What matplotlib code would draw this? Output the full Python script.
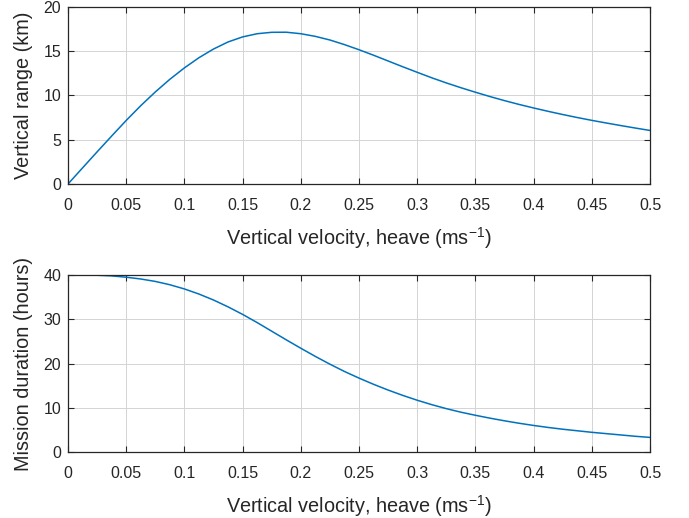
import numpy as np
import matplotlib
matplotlib.use("Agg")
import matplotlib.pyplot as plt

plt.rcParams['font.family'] = ['Liberation Sans', 'DejaVu Sans']
plt.rcParams['mathtext.fontset'] = 'custom'
plt.rcParams['mathtext.rm'] = 'Liberation Sans'

velocity = [0, 0.0125, 0.025, 0.0375, 0.05, 0.0625, 0.075, 0.0875, 0.1, 0.1125,
            0.125, 0.1375, 0.15, 0.1625, 0.175, 0.1875, 0.2, 0.2125, 0.225, 0.2375,
            0.25, 0.2625, 0.275, 0.2875, 0.3, 0.3125, 0.325, 0.3375, 0.35, 0.3625,
            0.375, 0.3875, 0.4, 0.4125, 0.425, 0.4375, 0.45, 0.4625, 0.475, 0.4875, 0.5]
vertical_range = [0, 1.82, 3.63, 5.42, 7.18, 8.85, 10.4, 11.83, 13.12, 14.27,
                  15.25, 16.05, 16.62, 16.98, 17.14, 17.15, 16.98, 16.68, 16.27, 15.75,
                  15.17, 14.55, 13.9, 13.25, 12.62, 12.0, 11.42, 10.88, 10.37, 9.88,
                  9.42, 8.99, 8.59, 8.21, 7.85, 7.51, 7.19, 6.89, 6.6, 6.32, 6.05]
mission_duration = [40, 40, 39.95, 39.8, 39.5, 39.1, 38.55, 37.8, 36.85, 35.7,
                    34.35, 32.8, 31.1, 29.25, 27.3, 25.35, 23.45, 21.6, 19.85, 18.2,
                    16.7, 15.3, 14.0, 12.8, 11.7, 10.7, 9.8, 9.0, 8.3, 7.65,
                    7.05, 6.5, 6.0, 5.55, 5.15, 4.8, 4.45, 4.15, 3.85, 3.55, 3.3]
xticks = [0, 0.05, 0.1, 0.15, 0.2, 0.25, 0.3, 0.35, 0.4, 0.45, 0.5]
xticklabels = ['0', '0.05', '0.1', '0.15', '0.2', '0.25', '0.3', '0.35', '0.4', '0.45', '0.5']

fig = plt.figure(figsize=(6.89, 5.18), dpi=100)
ax1 = fig.add_axes([0.0987, 0.6448, 0.8447, 0.3417])
ax2 = fig.add_axes([0.0987, 0.1274, 0.8447, 0.3417])

line_color = '#0072BD'
axis_color = '#262626'
xlabel = 'Vertical velocity, heave (ms$^{\\mathregular{-1}}$)'

for ax, y, ylim, yticks, ylabel in [
        (ax1, vertical_range, (0, 20), [0, 5, 10, 15, 20], 'Vertical range (km)'),
        (ax2, mission_duration, (0, 40), [0, 10, 20, 30, 40], 'Mission duration (hours)')]:
    ax.plot(velocity, y, color=line_color, linewidth=1.1)
    ax.set_xlim(0, 0.5)
    ax.set_ylim(*ylim)
    ax.set_xticks(xticks)
    ax.set_xticklabels(xticklabels)
    ax.set_yticks(yticks)
    ax.grid(True, color='#d4d4d4', linewidth=0.7)
    ax.set_axisbelow(True)
    ax.tick_params(direction='in', top=True, right=True, length=4, width=0.8,
                   colors=axis_color, labelsize=11.5)
    ax.tick_params(axis='x', pad=10)
    ax.tick_params(axis='y', pad=5)
    for s in ax.spines.values():
        s.set_color(axis_color)
        s.set_linewidth(0.9)
    ax.set_xlabel(xlabel, fontsize=14.3, color=axis_color)
    ax.set_ylabel(ylabel, fontsize=14.3, color=axis_color)
    ax.xaxis.set_label_coords(0.5, -0.232)
    ax.yaxis.set_label_coords(-0.06, 0.5)

fig.savefig('out.png', dpi=100)
